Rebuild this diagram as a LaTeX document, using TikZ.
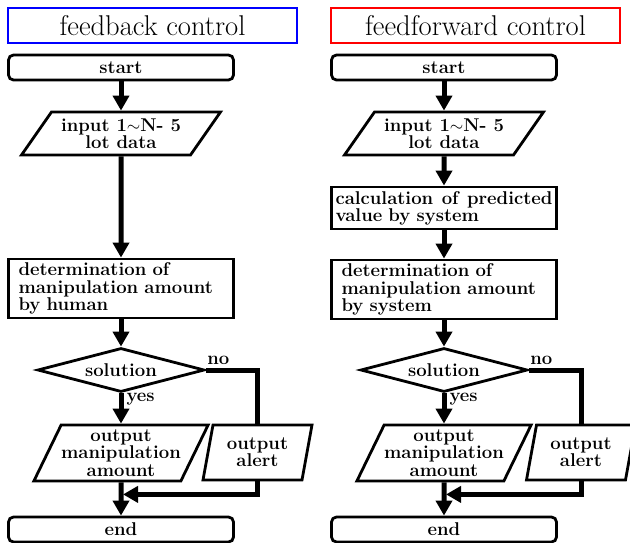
\documentclass[tikz,border=0pt]{standalone}
\usepackage{tikz}
\usetikzlibrary{shapes.geometric,arrows.meta}

\newcommand{\flowfont}{\bfseries\fontsize{18.5}{17.2}\selectfont}
\newcommand{\headfont}{\fontsize{28.6}{30}\selectfont}

\tikzset{
  heading/.style={draw=#1, line width=2.7pt, minimum width=289pt, minimum height=35pt, inner sep=0pt, font=\headfont},
  terminal/.style={draw, rounded corners=5pt, line width=2.8pt, minimum width=225pt, minimum height=25pt, inner sep=0pt, font=\flowfont},
  process/.style={draw, line width=2.8pt, minimum width=225pt, inner sep=0pt, font=\flowfont, align=left},
  io/.style={draw, trapezium, trapezium stretches body, line width=2.8pt, inner sep=0pt, font=\flowfont, align=center},
  decision/.style={draw, diamond, aspect=3.8, line width=2.8pt, minimum width=167pt, minimum height=44pt, inner sep=0pt, font=\flowfont},
  lbl/.style={font=\flowfont, inner sep=3pt},
  flow/.style={line width=5pt, ->},
  link/.style={line width=5pt}
}

\begin{document}
\begin{tikzpicture}[x=1pt, y=-1pt, >={Triangle[width=16pt,length=15pt]}]
  \useasboundingbox (0,0) rectangle (630,542);

  % feedback control
  \node[heading=blue] (titleL) at (152.5,25.5) {feedback control};
  \node[terminal] (startL) at (121,67.5) {start};
  \node[io, trapezium left angle=45, trapezium right angle=135, minimum width=199pt, minimum height=43pt] (inL) at (121,133.5) {input 1$\sim$N- 5\\lot data};
  \node[process, minimum height=59pt, text width=205pt] (detL) at (121,288.5) {determination of\\manipulation amount\\by human};
  \node[decision] (solL) at (121,370) {solution};
  \node[io, trapezium left angle=59.5, trapezium right angle=120.5, minimum width=173pt, minimum height=56pt] (outL) at (121,453) {output\\manipulation\\amount};
  \node[io, trapezium left angle=71, trapezium right angle=109, minimum width=109pt, minimum height=55pt] (alertL) at (257.5,452.5) {output\\alert};
  \node[terminal] (endL) at (121,529.5) {end};

  \draw[flow] (startL) -- (inL);
  \draw[flow] (inL) -- (detL);
  \draw[flow] (detL) -- (solL);
  \draw[flow] (solL) -- node[lbl, pos=0.2, right] {yes} (outL);
  \draw[link] (solL.east) -| node[lbl, pos=0.12, above] {no} (alertL.north);
  \draw[flow, shorten >=2pt] (alertL.south) |- ([yshift=-12pt]outL.south);
  \draw[flow] (outL) -- (endL);

  % feedforward control
  \node[heading=red] (titleR) at (475.5,25.5) {feedforward control};
  \node[terminal] (startR) at (444,67.5) {start};
  \node[io, trapezium left angle=45, trapezium right angle=135, minimum width=199pt, minimum height=43pt] (inR) at (444,133.5) {input 1$\sim$N- 5\\lot data};
  \node[process, minimum height=42pt, text width=217pt] (calcR) at (444,208) {\hbox to 217pt{calculation\hfill of\hfill predicted}\\value by system};
  \node[process, minimum height=59pt, text width=205pt] (detR) at (444,289.5) {determination of\\manipulation amount\\by system};
  \node[decision] (solR) at (444,370) {solution};
  \node[io, trapezium left angle=59.5, trapezium right angle=120.5, minimum width=173pt, minimum height=56pt] (outR) at (444,453) {output\\manipulation\\amount};
  \node[io, trapezium left angle=71, trapezium right angle=109, minimum width=109pt, minimum height=55pt] (alertR) at (581,452.5) {output\\alert};
  \node[terminal] (endR) at (444,529.5) {end};

  \draw[flow] (startR) -- (inR);
  \draw[flow] (inR) -- (calcR);
  \draw[flow] (calcR) -- (detR);
  \draw[flow] (detR) -- (solR);
  \draw[flow] (solR) -- node[lbl, pos=0.2, right] {yes} (outR);
  \draw[link] (solR.east) -| node[lbl, pos=0.12, above] {no} (alertR.north);
  \draw[flow, shorten >=2pt] (alertR.south) |- ([yshift=-12pt]outR.south);
  \draw[flow] (outR) -- (endR);
\end{tikzpicture}
\end{document}
